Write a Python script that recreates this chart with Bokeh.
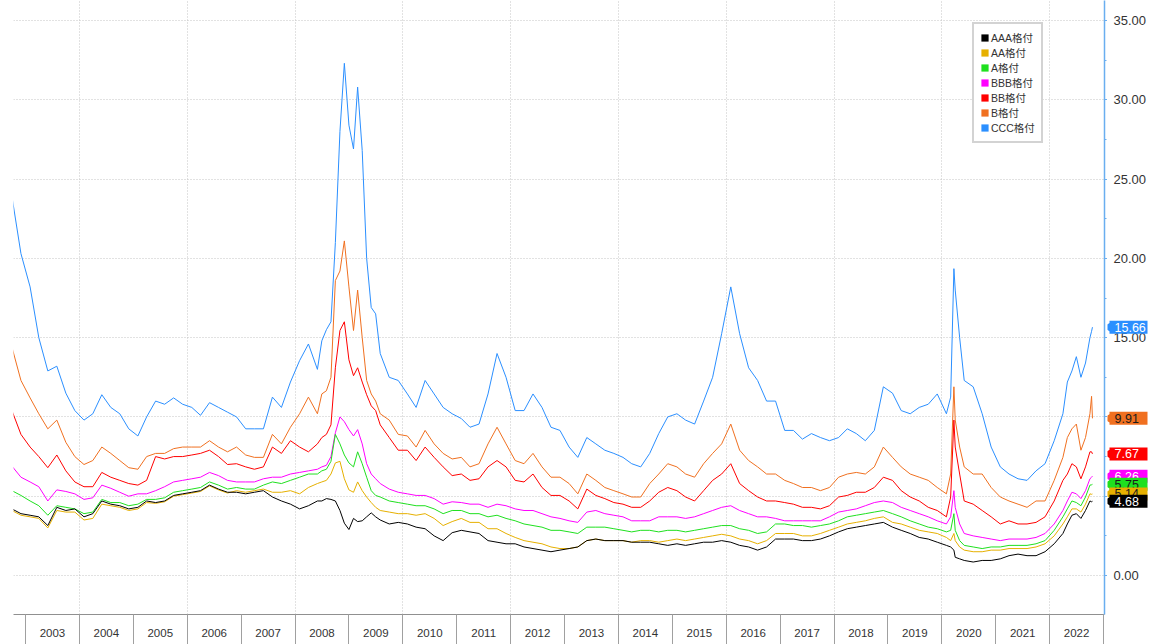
import math
import pandas as pd
from bokeh.plotting import figure
from bokeh.layouts import row
from bokeh.core.properties import value
from bokeh.models import (Range1d, FixedTicker, CustomJSTickFormatter, Legend, LegendItem)
from bokeh.embed import file_html
from bokeh.resources import INLINE

# ---------------- data ----------------
dates = [
    "2002-10-01", "2002-12-01",
    "2003-02-01", "2003-04-01", "2003-06-01", "2003-08-01", "2003-10-01", "2003-12-01",
    "2004-02-01", "2004-04-01", "2004-06-01", "2004-08-01", "2004-10-01", "2004-12-01",
    "2005-02-01", "2005-04-01", "2005-06-01", "2005-08-01", "2005-10-01", "2005-12-01",
    "2006-02-01", "2006-04-01", "2006-06-01", "2006-08-01", "2006-10-01", "2006-12-01",
    "2007-02-01", "2007-04-01", "2007-06-01", "2007-08-01", "2007-10-01", "2007-12-01",
    "2008-02-01", "2008-04-01", "2008-06-01", "2008-07-01", "2008-08-01", "2008-09-01", "2008-10-01", "2008-11-01", "2008-12-01",
    "2009-01-01", "2009-02-01", "2009-03-01", "2009-04-01", "2009-05-01", "2009-06-01", "2009-07-01", "2009-08-01", "2009-10-01", "2009-12-01",
    "2010-02-01", "2010-04-01", "2010-06-01", "2010-08-01", "2010-10-01", "2010-12-01",
    "2011-02-01", "2011-04-01", "2011-06-01", "2011-08-01", "2011-10-01", "2011-12-01",
    "2012-02-01", "2012-04-01", "2012-06-01", "2012-08-01", "2012-10-01", "2012-12-01",
    "2013-02-01", "2013-04-01", "2013-06-01", "2013-08-01", "2013-10-01", "2013-12-01",
    "2014-02-01", "2014-04-01", "2014-06-01", "2014-08-01", "2014-10-01", "2014-12-01",
    "2015-02-01", "2015-04-01", "2015-06-01", "2015-08-01", "2015-10-01", "2015-12-01",
    "2016-02-01", "2016-04-01", "2016-06-01", "2016-08-01", "2016-10-01", "2016-12-01",
    "2017-02-01", "2017-04-01", "2017-06-01", "2017-08-01", "2017-10-01", "2017-12-01",
    "2018-02-01", "2018-04-01", "2018-06-01", "2018-08-01", "2018-10-01", "2018-12-01",
    "2019-02-01", "2019-04-01", "2019-06-01", "2019-08-01", "2019-10-01", "2019-12-01",
    "2020-02-01", "2020-03-01", "2020-03-23", "2020-04-01", "2020-05-01", "2020-06-01", "2020-08-01", "2020-10-01", "2020-12-01",
    "2021-02-01", "2021-04-01", "2021-06-01", "2021-08-01", "2021-10-01", "2021-12-01",
    "2022-02-01", "2022-04-01", "2022-05-01", "2022-06-01", "2022-07-01", "2022-08-01", "2022-09-01", "2022-10-01", "2022-10-12", "2022-10-18",
]

ccc = [
    23.9, 20.3,
    18.2, 15.0, 12.9, 13.2, 11.5, 10.4,
    9.8, 10.2, 11.4, 10.6, 10.2, 9.25,
    8.8, 10.0, 11.0, 10.8, 11.2, 10.8,
    10.6, 10.1, 10.9, 10.6, 10.3, 10.0,
    9.25, 9.25, 9.25, 11.25, 10.6, 12.2,
    13.55, 14.6, 13.0, 14.8, 15.5, 16.0, 21.0, 28.0, 32.3,
    28.4, 26.9, 30.8, 26.8, 20.0, 16.9, 16.5, 14.0, 12.5, 12.3,
    11.45, 10.6, 12.3, 11.45, 10.6, 10.2,
    9.9, 9.35, 9.55, 11.45, 14.0, 12.5,
    10.4, 10.4, 11.45, 10.6, 9.35, 9.15,
    8.1, 7.45, 8.7, 8.3, 7.9, 7.7,
    7.45, 7.05, 6.85, 7.7, 8.95, 10.0,
    10.2, 9.8, 9.55, 11.0, 12.5, 15.25,
    18.2, 15.25, 13.1, 12.3, 11.0, 11.0,
    9.15, 9.15, 8.6, 8.95, 8.7, 8.5,
    8.7, 9.25, 8.95, 8.5, 9.15, 11.9,
    11.5, 10.4, 10.2, 10.6, 10.8, 11.45,
    10.2, 11.25, 19.35, 18.0, 15.0, 12.3, 11.9, 10.2, 8.1,
    6.85, 6.4, 6.1, 6.0, 6.6, 7.05,
    8.5, 10.2, 12.2, 12.9, 13.8, 12.5, 13.4, 15.0, 15.4, 15.66,
]

b_rated = [
    14.4, 12.3,
    11.2, 10.2, 9.25, 9.8, 8.4, 7.5,
    7.0, 7.25, 8.1, 7.7, 7.25, 6.8,
    6.7, 7.5, 7.7, 7.7, 8.0, 8.1,
    8.1, 8.1, 8.5, 8.1, 7.8, 8.1,
    7.6, 7.45, 7.45, 8.9, 8.3, 9.35,
    10.2, 11.25, 10.2, 11.45, 11.65, 12.5, 18.6, 19.2, 21.1,
    18.2, 15.45, 18.0, 15.0, 12.3, 11.45, 11.0, 10.2, 9.8, 8.9,
    8.8, 8.1, 9.15, 8.3, 7.7, 7.35,
    7.45, 6.85, 7.05, 8.3, 9.35, 8.3,
    7.25, 7.05, 7.7, 6.85, 6.2, 6.2,
    5.8, 5.15, 6.4, 6.0, 5.55, 5.35,
    5.15, 4.95, 4.95, 5.8, 6.4, 7.05,
    6.85, 6.4, 6.2, 7.05, 7.7, 8.3,
    9.55, 7.9, 7.25, 6.85, 6.4, 6.4,
    6.0, 5.8, 5.55, 5.55, 5.35, 5.55,
    6.2, 6.4, 6.5, 6.4, 6.85, 8.1,
    7.45, 6.85, 6.4, 6.2, 6.0, 5.55,
    5.15, 6.4, 11.9, 9.8, 8.1, 6.85, 6.4, 6.4, 5.55,
    4.95, 4.7, 4.5, 4.3, 4.7, 4.7,
    6.0, 7.45, 8.7, 9.25, 9.55, 7.9, 8.7, 10.2, 11.3, 9.91,
]

bb = [
    10.4, 8.9,
    8.1, 7.5, 6.8, 7.6, 6.6, 5.9,
    5.6, 5.6, 6.5, 6.2, 6.0, 5.8,
    5.7, 6.0, 7.5, 7.35, 7.5, 7.5,
    7.6, 7.7, 7.9, 7.5, 7.0, 7.05,
    6.85, 6.7, 6.85, 8.1, 7.7, 8.5,
    8.1, 7.8, 8.3, 8.7, 8.9, 9.5, 13.1, 15.45, 16.0,
    13.6, 12.6, 13.1, 12.2, 11.4, 10.7, 10.4, 9.5, 8.7, 7.9,
    7.9, 7.25, 8.1, 7.45, 6.85, 6.3,
    6.4, 6.0, 6.1, 6.85, 7.25, 6.85,
    6.0, 5.9, 6.4, 5.55, 5.05, 5.05,
    4.7, 4.2, 5.45, 5.05, 4.85, 4.6,
    4.5, 4.3, 4.3, 4.7, 5.25, 5.55,
    5.35, 4.95, 4.7, 5.35, 6.0, 6.4,
    7.05, 5.8, 5.35, 4.95, 4.7, 4.7,
    4.6, 4.5, 4.3, 4.3, 4.2, 4.4,
    4.95, 5.05, 5.25, 5.25, 5.55, 6.2,
    6.0, 5.35, 4.95, 4.7, 4.3, 4.1,
    3.7, 4.95, 9.8, 8.1, 6.4, 4.7, 4.5, 4.1, 3.7,
    3.25, 3.45, 3.25, 3.25, 3.35, 3.7,
    4.7, 6.0, 6.4, 7.05, 6.85, 6.1, 6.85, 7.8, 7.8, 7.67,
]

bbb = [
    6.9, 6.2,
    5.9, 5.6, 4.7, 5.4, 5.3, 5.15,
    4.8, 4.9, 5.7, 5.5, 5.25, 5.0,
    5.15, 5.15, 5.35, 5.6, 5.9, 6.0,
    6.1, 6.2, 6.5, 6.3, 6.0, 5.9,
    5.9, 5.9, 6.1, 6.2, 6.2, 6.4,
    6.5, 6.6, 6.7, 6.85, 6.95, 7.5, 9.0, 10.0, 9.7,
    9.2, 8.8, 9.2, 8.3, 7.05, 6.4, 6.1, 5.8, 5.45, 5.25,
    5.15, 5.05, 5.05, 4.85, 4.5, 4.65,
    4.6, 4.5, 4.5, 4.3, 4.5, 4.4,
    4.2, 4.1, 4.1, 3.9, 3.7, 3.6,
    3.45, 3.35, 4.0, 4.1, 3.9, 3.8,
    3.7, 3.45, 3.45, 3.45, 3.7, 3.7,
    3.7, 3.6, 3.7, 3.9, 4.1, 4.3,
    4.4, 4.1, 3.9, 3.7, 3.7, 3.6,
    3.45, 3.45, 3.45, 3.45, 3.45, 3.7,
    4.0, 4.1, 4.2, 4.4, 4.6, 4.7,
    4.6, 4.3, 4.1, 3.9, 3.7, 3.45,
    3.25, 3.7, 5.35, 4.3, 3.25, 2.65, 2.5, 2.4, 2.3,
    2.2, 2.3, 2.3, 2.3, 2.4, 2.65,
    3.25, 4.1, 4.7, 5.25, 5.15, 4.85, 5.35, 6.1, 6.2, 6.26,
]

a_rated = [
    5.35, 5.05,
    4.7, 4.4, 3.8, 4.4, 4.3, 4.2,
    3.9, 4.0, 4.8, 4.6, 4.6, 4.4,
    4.5, 4.8, 4.8, 4.9, 5.25, 5.35,
    5.45, 5.55, 5.9, 5.7, 5.45, 5.55,
    5.45, 5.45, 5.7, 5.9, 5.8, 6.0,
    6.2, 6.4, 6.4, 6.6, 6.7, 7.2, 8.9, 8.3, 7.6,
    7.1, 6.85, 7.8, 7.05, 6.2, 5.35, 5.05, 4.95, 4.7, 4.6,
    4.5, 4.4, 4.4, 4.2, 3.9, 4.1,
    4.1, 3.9, 3.9, 3.7, 3.8, 3.6,
    3.45, 3.25, 3.15, 3.05, 2.85, 2.85,
    2.75, 2.65, 3.05, 3.05, 3.05, 2.95,
    2.85, 2.75, 2.85, 2.85, 2.75, 2.85,
    2.85, 2.75, 2.85, 2.95, 3.05, 3.15,
    3.15, 2.95, 2.85, 2.65, 2.75, 3.25,
    3.25, 3.15, 3.15, 3.05, 3.15, 3.25,
    3.45, 3.7, 3.8, 3.9, 4.0, 4.1,
    3.9, 3.7, 3.45, 3.25, 3.05, 2.95,
    2.75, 2.85, 3.9, 2.85, 2.2, 1.9, 1.8, 1.7, 1.8,
    1.8, 1.9, 1.9, 1.9, 2.0, 2.2,
    2.85, 3.7, 4.2, 4.7, 4.6, 4.4, 4.95, 5.7, 5.72, 5.75,
]

aa = [
    4.1, 3.8,
    3.7, 3.6, 3.0, 4.1, 4.0, 4.0,
    3.5, 3.6, 4.5, 4.4, 4.3, 4.1,
    4.2, 4.6, 4.55, 4.65, 5.0, 5.1,
    5.2, 5.3, 5.65, 5.4, 5.2, 5.35,
    5.25, 5.35, 5.45, 5.25, 5.25, 5.35,
    5.15, 5.55, 5.8, 5.9, 6.0, 6.4, 7.1, 7.2, 6.1,
    5.4, 5.25, 5.9, 5.35, 4.95, 4.6, 4.3, 4.1, 4.0, 3.9,
    3.9, 3.8, 3.9, 3.6, 3.15, 3.4,
    3.6, 3.35, 3.35, 2.95, 2.95, 2.65,
    2.4, 2.2, 2.1, 2.0, 1.8, 1.7,
    1.7, 1.8, 2.2, 2.3, 2.2, 2.2,
    2.2, 2.1, 2.2, 2.2, 2.1, 2.2,
    2.3, 2.2, 2.3, 2.4, 2.5, 2.6,
    2.5, 2.3, 2.2, 2.0, 2.2, 2.65,
    2.65, 2.65, 2.5, 2.5, 2.65, 2.85,
    3.05, 3.25, 3.35, 3.45, 3.6, 3.7,
    3.35, 3.25, 3.05, 2.85, 2.75, 2.65,
    2.4, 2.2, 2.65, 2.2, 1.8, 1.6, 1.5, 1.5, 1.6,
    1.6, 1.7, 1.7, 1.7, 1.8, 2.0,
    2.5, 3.25, 3.7, 4.2, 4.2, 4.0, 4.5, 5.15, 5.12, 5.14,
]

aaa = [
    4.2, 3.9,
    3.8, 3.7, 3.15, 4.3, 4.1, 4.2,
    3.7, 3.9, 4.7, 4.5, 4.4, 4.2,
    4.3, 4.7, 4.6, 4.7, 5.05, 5.15,
    5.25, 5.35, 5.7, 5.45, 5.25, 5.25,
    5.15, 5.25, 5.35, 4.95, 4.7, 4.5,
    4.2, 4.4, 4.7, 4.7, 4.85, 4.8, 4.7, 4.1, 3.3,
    2.9, 3.6, 3.4, 3.45, 3.7, 3.95, 3.7, 3.5, 3.25, 3.35,
    3.25, 3.05, 2.95, 2.5, 2.2, 2.7,
    2.85, 2.75, 2.65, 2.2, 2.1, 2.0,
    2.0, 1.8, 1.7, 1.6, 1.5, 1.6,
    1.7, 1.8, 2.2, 2.3, 2.2, 2.2,
    2.2, 2.1, 2.1, 2.1, 2.0, 1.9,
    2.0, 1.9, 2.0, 2.1, 2.1, 2.2,
    2.1, 1.9, 1.8, 1.6, 1.8, 2.3,
    2.3, 2.3, 2.2, 2.2, 2.3, 2.5,
    2.75, 2.95, 3.05, 3.15, 3.25, 3.35,
    3.05, 2.85, 2.65, 2.4, 2.3, 2.1,
    1.9, 1.8, 1.6, 1.15, 1.05, 0.95, 0.85, 0.95, 0.95,
    1.05, 1.25, 1.35, 1.25, 1.25, 1.5,
    2.0, 2.65, 3.25, 3.8, 3.9, 3.6, 4.1, 4.7, 4.65, 4.68,
]

series_names = ["AAA格付", "AA格付", "A格付", "BBB格付", "BB格付", "B格付", "CCC格付"]
series_colors = ["#000000", "#e6b000", "#1fe01f", "#ff00ff", "#ff0000", "#f07020", "#2b8fff"]
last_values = [4.68, 5.14, 5.75, 6.26, 7.67, 9.91, 15.66]
tag_text_colors = ["#ffffff", "#1a1a1a", "#1a1a1a", "#ffffff", "#ffffff", "#1a1a1a", "#ffffff"]

y_ticks = [0, 5, 10, 15, 20, 25, 30, 35]
y_minor = [-2.5, 2.5, 7.5, 12.5, 17.5, 22.5, 27.5, 32.5]
year_labels = list(range(2003, 2023))
# ----------------------------------------------------------------------

dt = pd.to_datetime(dates)
t = list(dt.year + (dt.dayofyear - 1) / (365 + dt.is_leap_year.astype(int)))

AXIS_BLUE = "#6aaef0"
X0, X1 = 2002.777, 2023.018
yr = Range1d(-2.459, 36.261)

# ---------------- main chart ----------------
p = figure(width=1107, height=644, output_backend="svg", toolbar_location=None,
           x_range=Range1d(X0, X1), y_range=yr, y_axis_location="right",
           min_border_left=13, min_border_right=3, min_border_top=0, min_border_bottom=30)
p.outline_line_color = None
p.background_fill_color = "white"
p.border_fill_color = "white"

# right value axis: line + ticks here, its numbers are written in the side strip
yax = p.yaxis[0]
yax.ticker = FixedTicker(ticks=y_ticks, minor_ticks=y_minor)
yax.formatter = CustomJSTickFormatter(code="return '';")
yax.axis_line_color = AXIS_BLUE
yax.axis_line_width = 1.5
yax.major_tick_line_color = AXIS_BLUE
yax.major_tick_out = 3
yax.major_tick_in = 0
yax.minor_tick_line_color = AXIS_BLUE
yax.minor_tick_out = 2
yax.minor_tick_in = 0
yax.major_label_standoff = 0

# x axis (year bands: separators as minor ticks, labels centred in each year)
xax = p.xaxis[0]
xax.ticker = FixedTicker(ticks=[y + 0.5 for y in year_labels],
                         minor_ticks=year_labels + [year_labels[-1] + 1])
xax.formatter = CustomJSTickFormatter(code="return String(Math.floor(tick));")
xax.major_tick_line_color = None
xax.major_tick_out = 0
xax.major_tick_in = 0
xax.minor_tick_line_color = "#a0a0a0"
xax.minor_tick_out = 30
xax.minor_tick_in = 0
xax.axis_line_color = "#909090"
xax.major_label_text_font = "Liberation Sans"
xax.major_label_text_font_size = "11.5px"
xax.major_label_text_color = "#333333"
xax.major_label_standoff = -16

# grids
p.xgrid.ticker = FixedTicker(ticks=year_labels[1::2])
p.ygrid.ticker = FixedTicker(ticks=y_ticks)
for g in (p.xgrid, p.ygrid):
    g.grid_line_color = "#c4c4c4"
    g.grid_line_dash = "1 2"
    g.grid_line_width = 1

# lines (CCC first, AAA last on top)
all_series = [aaa, aa, a_rated, bbb, bb, b_rated, ccc]
for vals, col in reversed(list(zip(all_series, series_colors))):
    p.line(t, vals, line_color=col, line_width=1)

# legend with square swatches
nan = float("nan")
items = []
for name, col in zip(series_names, series_colors):
    r = p.quad(left=[nan], right=[nan], top=[nan], bottom=[nan], fill_color=col, line_color=None)
    items.append(LegendItem(label=name, renderers=[r]))
legend = Legend(items=items, location=(959, 471),
                label_text_font="Liberation Sans, Noto Sans CJK JP", label_text_font_size="10.5px",
                label_text_color="#333333", glyph_width=9, glyph_height=9,
                label_height=14, label_standoff=2, spacing=0, padding=6,
                border_line_color="#a8a8a8", border_line_width=2,
                background_fill_color="white", background_fill_alpha=1.0)
p.add_layout(legend)

# ---------------- side strip: axis numbers and last-value tags ----------------
s = figure(width=50, height=644, output_backend="svg", toolbar_location=None,
           x_range=Range1d(0, 50), y_range=yr,
           x_axis_location=None, y_axis_location=None,
           min_border_left=0, min_border_right=0, min_border_top=0, min_border_bottom=30)
s.outline_line_color = None
s.background_fill_color = "white"
s.border_fill_color = "white"
s.grid.visible = False

s.text(x=[6] * len(y_ticks), y=y_ticks, text=[f"{v:.2f}" for v in y_ticks],
       text_font=value("Liberation Sans"), text_font_size=value("13px"),
       text_color="#333333", text_baseline="middle", text_align="left")

for v, bg, fg in reversed(list(zip(last_values, series_colors, tag_text_colors))):
    s.scatter(x=[2], y=[v], marker="triangle", size=12, angle=math.pi / 2,
              fill_color=bg, line_color=None)
    s.rect(x=[21], y=[v], width=38, height=13, width_units="screen", height_units="screen",
           fill_color=bg, line_color=None)
    s.text(x=[7], y=[v], text=[f"{v:.2f}"], text_color=fg,
           text_font=value("Liberation Sans"), text_font_size=value("12.5px"),
           text_baseline="middle", text_align="left")

open("out.html", "w").write(file_html(row(p, s), INLINE))
